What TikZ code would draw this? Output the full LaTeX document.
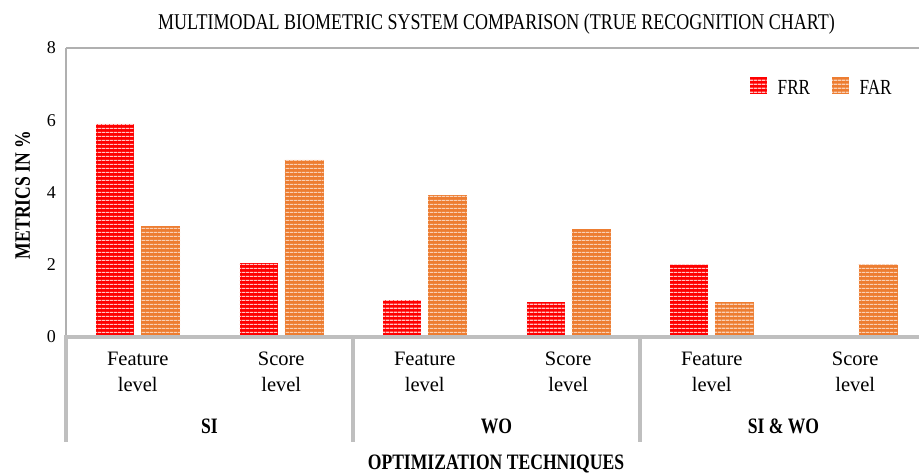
\documentclass[tikz,border=0pt]{standalone}
\usepackage{fontspec}
\setmainfont{Liberation Serif}
\newfontfamily\capsfont{Liberation Serif}[FakeStretch=0.8]
\usetikzlibrary{patterns.meta}

\definecolor{frrred}{HTML}{FF0000}
\definecolor{farorange}{HTML}{ED7D31}
\definecolor{axisgray}{HTML}{BFBFBF}
\definecolor{framegray}{HTML}{B0B0B0}

\tikzset{
  frrbar/.style={fill=frrred, postaction={pattern={Lines[angle=0,distance=4pt,line width=1.5pt]}, pattern color=frrred!22}},
  farbar/.style={fill=farorange, postaction={pattern={Lines[angle=0,distance=4pt,line width=1.5pt]}, pattern color=farorange!35}},
  ticklabel/.style={anchor=east, inner sep=0pt, font=\fontsize{18}{20}\selectfont},
  catlabel/.style={anchor=north, inner sep=0pt, align=center, font=\fontsize{20.5}{25.7}\selectfont},
  grouplabel/.style={anchor=base, inner sep=0pt, font=\capsfont\bfseries\fontsize{22}{24}\selectfont},
  capslabel/.style={inner sep=0pt, font=\capsfont\fontsize{21.5}{24}\selectfont}
}

\begin{document}
\begin{tikzpicture}[x=1pt, y=1pt] % 1pt = 1px of the chart
  \useasboundingbox (0,0) rectangle (919,475);

  \coordinate (O) at (66,138);   % value 0
  \coordinate (T) at (66,427);   % value 8
  \coordinate (R) at (919,138);

  % plot frame
  \draw[framegray, line width=1.5pt] (T) -- (919,427);
  \draw[framegray, line width=1.6pt] (T) -- (O);

  % bars: category centre / FRR / FAR
  \foreach \c/\r/\a in {137.75/5.9/3.07, 281.25/2.04/4.9, 424.75/1.02/3.93,
                        568.25/0.98/2.98, 711.75/2.0/0.98, 855.25/0/2.0} {
    \fill[frrbar] (\c-41.75,138) rectangle (\c-3.75,138+36.125*\r);
    \fill[farbar] (\c+3.25,138) rectangle (\c+42.25,138+36.125*\a);
  }

  % category axis
  \draw[axisgray, line width=4.3pt] (64,138) -- (R);
  \foreach \x in {66,353,640}
    \draw[axisgray, line width=4.3pt] (\x,138) -- (\x,33);

  % y ticks
  \foreach \v in {0,2,4,6,8}
    \node[ticklabel] (tick\v) at (56,138+36.125*\v) {\v};

  % category labels
  \foreach \c/\t [count=\i] in {137.75/Feature, 281.25/Score, 424.75/Feature,
                               568.25/Score, 711.75/Feature, 855.25/Score}
    \node[catlabel] (cat\i) at (\c,123) {\t\\level};

  \node[grouplabel] (si) at (209.5,42) {SI};
  \node[grouplabel] (wo) at (496.5,42) {WO};
  \node[grouplabel] (siwo) at (783.5,42) {SI \& WO};

  % titles
  \node[capslabel, anchor=base, font=\capsfont\fontsize{22.5}{24}\selectfont] (title) at (496.5,445)
    {MULTIMODAL BIOMETRIC SYSTEM COMPARISON (TRUE RECOGNITION CHART)};
  \node[grouplabel] (xtitle) at (496,6) {OPTIMIZATION TECHNIQUES};
  \node[grouplabel, rotate=90] (ytitle) at (30,280) {METRICS IN \%};

  % legend
  \fill[frrbar] (750,380.7) rectangle (766.7,397.7);
  \node[capslabel, anchor=base west] (frr) at (777.5,380.7) {FRR};
  \fill[farbar] (832,380.7) rectangle (848.7,397.7);
  \node[capslabel, anchor=base west] (far) at (859.3,380.7) {FAR};
\end{tikzpicture}
\end{document}
